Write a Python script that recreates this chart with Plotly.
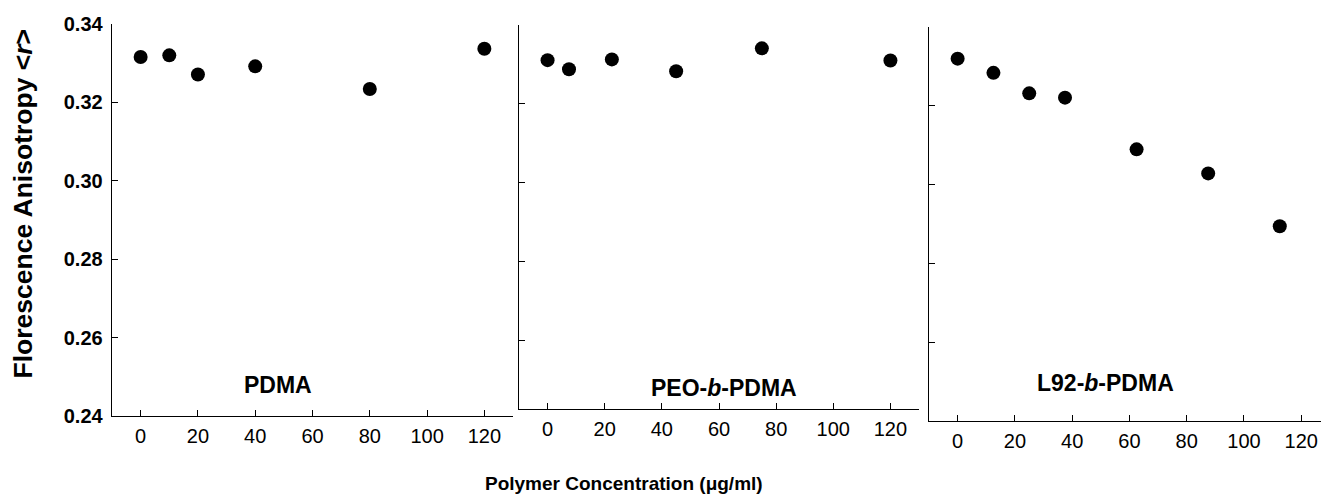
import plotly.graph_objects as go

# ---- data ----
pdma_x = [0, 10, 20, 40, 80, 120]
pdma_y = [0.3316, 0.3320, 0.3271, 0.3292, 0.3234, 0.3337]

peo_x = [0, 7.5, 22.5, 45, 75, 120]
peo_y = [0.3310, 0.3287, 0.3312, 0.3282, 0.3340, 0.3309]

l92_x = [0, 12.5, 25, 37.5, 62.5, 87.5, 112.5]
l92_y = [0.3319, 0.3283, 0.3231, 0.3220, 0.3089, 0.3028, 0.2894]

panel_names = ["PDMA", "PEO-<i>b</i>-PDMA", "L92-<i>b</i>-PDMA"]
x_ticks = [0, 20, 40, 60, 80, 100, 120]
y_ticks = [0.24, 0.26, 0.28, 0.30, 0.32, 0.34]
y_ticklabels = ["0.24", "0.26", "0.28", "0.30", "0.32", "0.34"]

W, H = 1321, 497
FONT = "Liberation Sans, Arial, sans-serif"


def px(x):
    return x / W


def py(y):
    return 1 - y / H


fig = go.Figure()
series = [(pdma_x, pdma_y), (peo_x, peo_y), (l92_x, l92_y)]
for i, (xs, ys) in enumerate(series):
    sfx = "" if i == 0 else str(i + 1)
    fig.add_trace(go.Scatter(
        x=xs, y=ys, mode="markers", xaxis="x" + sfx, yaxis="y" + sfx,
        marker=dict(color="black", size=14, line=dict(width=0)),
        showlegend=False, hoverinfo="skip", cliponaxis=False))

# panel geometry in page pixels
xdom_px = [(112, 513), (519, 919), (929, 1321)]
ydom_px = [(24, 416), (24.7, 409), (26.7, 421)]
xranges = [[-10, 130], [-10, 130], [-10, 126.9]]
yranges = [[0.24, 0.34], [0.2425, 0.34], [0.24, 0.34]]

axis_common = dict(showline=True, linecolor="black", linewidth=1.3,
                   ticks="inside", ticklen=6, tickwidth=1, tickcolor="black",
                   showgrid=False, zeroline=False, mirror=False, automargin=False)

layout = dict(width=W, height=H, paper_bgcolor="white", plot_bgcolor="white",
              margin=dict(l=0, r=0, t=0, b=0, autoexpand=False),
              font=dict(family=FONT, color="black"))

for i in range(3):
    sfx = "" if i == 0 else str(i + 1)
    x0, x1 = xdom_px[i]
    yt, yb = ydom_px[i]
    layout["xaxis" + sfx] = dict(
        domain=[px(x0), min(px(x1), 1)], range=xranges[i], anchor="y" + sfx,
        tickvals=x_ticks, ticktext=[str(v) for v in x_ticks],
        tickfont=dict(family=FONT, size=20, color="black"),
        ticklabelstandoff=2, ticklabeloverflow="allow", **axis_common)
    layout["yaxis" + sfx] = dict(
        domain=[py(yb), py(yt)], range=yranges[i], anchor="x" + sfx,
        tickvals=y_ticks, ticktext=y_ticklabels if i == 0 else [""] * len(y_ticks),
        showticklabels=(i == 0),
        tickfont=dict(family=FONT, size=20, color="black", weight="bold"),
        ticklabelstandoff=4, **axis_common)

fig.update_layout(**layout)

# panel labels
label_pos = [(48, 0.2479), (61.8, 0.2478), (51.7, 0.2496)]
for i, name in enumerate(panel_names):
    sfx = "" if i == 0 else str(i + 1)
    fig.add_annotation(x=label_pos[i][0], y=label_pos[i][1], xref="x" + sfx, yref="y" + sfx,
                       text="<b>" + name + "</b>", showarrow=False,
                       font=dict(family=FONT, size=23, color="black"),
                       xanchor="center", yanchor="middle")

# axis titles
fig.add_annotation(x=px(23), y=py(203.5), xref="paper", yref="paper",
                   text="<b>Florescence Anisotropy &lt;<i>r</i>&gt;</b>", textangle=-90,
                   showarrow=False, font=dict(family=FONT, size=26.5, color="black"),
                   xanchor="center", yanchor="middle")
fig.add_annotation(x=px(624), y=py(483), xref="paper", yref="paper",
                   text="<b>Polymer Concentration (\u03bcg/ml)</b>",
                   showarrow=False, font=dict(family=FONT, size=19, color="black"),
                   xanchor="center", yanchor="middle")

fig.write_html(
    "out.html",
    config={"displayModeBar": False, "staticPlot": True},
    post_script="document.body.style.margin='0';document.body.style.padding='0';"
                "document.body.style.overflow='hidden';"
                "document.documentElement.style.overflow='hidden';")
